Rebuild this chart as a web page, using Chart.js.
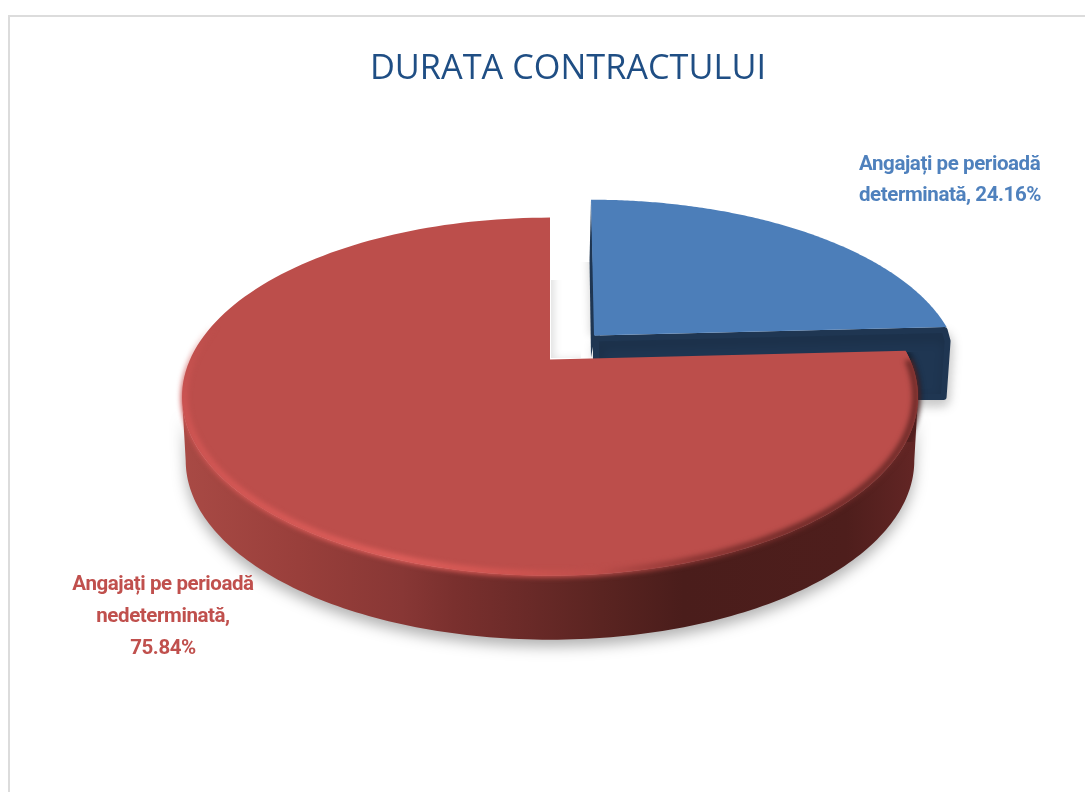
<!DOCTYPE html>
<html>
<head>
<meta charset="utf-8">
<style>
html,body{margin:0;padding:0;background:#fff;overflow:hidden;width:1085px;height:792px}
canvas{display:block}
</style>
<script src="https://cdn.jsdelivr.net/npm/chart.js@4"></script>
</head>
<body>
<canvas id="c" width="1085" height="792"></canvas>
<script>
const categories = ['Angajați pe perioadă determinată', 'Angajați pe perioadă nedeterminată'];
const values = [24.16, 75.84];
const labelLines = [['Angajați pe perioadă', 'determinată, 24.16%'], ['Angajați pe perioadă', 'nedeterminată,', '75.84%']];
const titleText = 'DURATA CONTRACTULUI';
const topColors = ['#4c7eb9', '#bc4e4b'];
const labelColors = ['#4f81bd', '#c0504d'];

const PERSP = 0.207;
const looks = [
  {dx: 44, dy: -24, rx: 0.992, ry: 0.4556, lean: 3.6, depth: 73},
  {dx: 0, dy: 0, rx: 1, ry: 0.476, lean: 0, depth: 64}
];
function proj(arc, look, r, ang, down) {
  const u = r * Math.cos(ang), v = r * Math.sin(ang), w = 1 - PERSP * v;
  const R = arc.outerRadius;
  const sx = down ? 0.99 : 1;
  return {
    x: arc.x + look.dx + sx * R * look.rx * u / w + look.lean * v / w,
    y: arc.y + look.dy + R * look.ry * v / w + (down ? look.depth : 0)
  };
}
function trace(ctx, arc, look, r, a0, a1, down, move) {
  const n = 160;
  for (let i = 0; i <= n; i++) {
    const p = proj(arc, look, r, a0 + (a1 - a0) * i / n, down);
    if (i === 0 && move) ctx.moveTo(p.x, p.y); else ctx.lineTo(p.x, p.y);
  }
}
function wedge(ctx, arc, look, r) {
  const c = proj(arc, look, 0, 0);
  ctx.beginPath();
  ctx.moveTo(c.x, c.y);
  trace(ctx, arc, look, r, arc.startAngle, arc.endAngle, false, false);
  ctx.closePath();
}
function softShadow(ctx, arc, look, box, alpha, blur, ox) {
  ctx.save();
  ctx.beginPath();
  ctx.rect(box[0], box[1], box[2], box[3]);
  ctx.clip();
  ctx.shadowColor = 'rgba(0,0,0,' + alpha + ')';
  ctx.shadowBlur = blur;
  ctx.shadowOffsetX = ox;
  wedge(ctx, arc, look, 1);
  ctx.fillStyle = topColors[look === looks[0] ? 0 : 1];
  ctx.fill();
  ctx.restore();
}
function drawBlue(ctx, arc, look) {
  const c = proj(arc, look, 0, 0);
  const k = proj(arc, look, 1, arc.endAngle);
  const t = proj(arc, look, 1, arc.startAngle);
  softShadow(ctx, arc, look, [560, 262, 40, 100], 0.16, 9, -4);
  ctx.save();
  ctx.shadowColor = 'rgba(0,0,0,0.2)';
  ctx.shadowBlur = 12;
  ctx.shadowOffsetX = 2;
  ctx.shadowOffsetY = 6;
  ctx.fillStyle = '#1f3652';
  ctx.strokeStyle = '#1f3652';
  ctx.lineJoin = 'round';
  ctx.lineWidth = 6;
  ctx.beginPath();
  ctx.moveTo(c.x + 2, c.y + 3);
  ctx.lineTo(k.x - 2, k.y + 3);
  ctx.lineTo(k.x + 1, k.y + 14);
  ctx.lineTo(k.x - 3, k.y + look.depth - 3);
  ctx.lineTo(c.x + 2, k.y + look.depth - 3);
  ctx.closePath();
  ctx.fill();
  ctx.stroke();
  ctx.restore();
  ctx.fillStyle = '#1f3652';
  ctx.beginPath();
  ctx.moveTo(t.x, t.y);
  ctx.lineTo(t.x - 1.5, t.y + 60);
  ctx.lineTo(c.x - 3, c.y + 22);
  ctx.lineTo(c.x + 1, c.y);
  ctx.closePath();
  ctx.fill();
  wedge(ctx, arc, look, 1);
  ctx.fillStyle = topColors[0];
  ctx.fill();
}
function drawRed(ctx, arc, look) {
  const rightA = 12 * Math.PI / 180;
  const leftA = 168 * Math.PI / 180;
  const grad = ctx.createLinearGradient(180, 0, 920, 0);
  [[0, '#a94a45'], [0.16, '#993f3b'], [0.3, '#883735'], [0.37, '#7a302e'], [0.47, '#6a2a28'],
   [0.57, '#5a2421'], [0.68, '#4a1d1b'], [0.9, '#4e1e1c'], [1, '#642625']].forEach(s => grad.addColorStop(s[0], s[1]));
  ctx.save();
  ctx.shadowColor = 'rgba(0,0,0,0.3)';
  ctx.shadowBlur = 14;
  ctx.shadowOffsetY = 7;
  ctx.beginPath();
  trace(ctx, arc, look, 1, rightA, leftA, false, true);
  trace(ctx, arc, look, 1, leftA, rightA, true, false);
  ctx.closePath();
  ctx.fillStyle = grad;
  ctx.fill();
  ctx.restore();

  softShadow(ctx, arc, look, [551, 280, 30, 78], 0.13, 9, 4);
  softShadow(ctx, arc, look, [880, 352, 60, 90], 0.6, 6, 2);
  wedge(ctx, arc, look, 1);
  ctx.fillStyle = topColors[1];
  ctx.fill();

  const rim = ctx.createConicGradient(0, arc.x, arc.y);
  [[0, 'rgba(104,40,38,0.9)'], [34 / 360, 'rgba(110,42,40,1)'], [54 / 360, 'rgba(138,53,51,1)'],
   [78 / 360, 'rgba(190,78,75,1)'], [100 / 360, 'rgba(208,84,80,1)'], [127 / 360, 'rgba(223,95,91,1)'],
   [157 / 360, 'rgba(213,88,85,1)'], [174 / 360, 'rgba(204,84,82,1)'], [186 / 360, 'rgba(204,84,82,0)'],
   [1, 'rgba(104,40,38,0)']].forEach(s => rim.addColorStop(s[0], s[1]));
  ctx.save();
  ctx.filter = 'blur(2.5px)';
  ctx.beginPath();
  trace(ctx, arc, look, 0.994, 0, Math.PI * 1.08, false, true);
  ctx.strokeStyle = rim;
  ctx.lineWidth = 7;
  ctx.stroke();
  ctx.restore();
}
const piePlugin = {
  id: 'tiltedPie',
  beforeDraw(chart) {
    const ctx = chart.ctx;
    ctx.save();
    ctx.fillStyle = '#dcdcdc';
    ctx.fillRect(8, 15, 2, 777);
    ctx.fillRect(8, 15, 1077, 2);
    ctx.restore();
  },
  beforeDatasetsDraw(chart) {
    const ctx = chart.ctx;
    const arcs = chart.getDatasetMeta(0).data;
    drawBlue(ctx, arcs[0], looks[0]);
    drawRed(ctx, arcs[1], looks[1]);
    return false;
  },
  afterDraw(chart) {
    const ctx = chart.ctx;
    ctx.save();
    ctx.font = 'bold 20.5px Roboto';
    ctx.letterSpacing = '-0.42px';
    ctx.textBaseline = 'alphabetic';
    ctx.fillStyle = labelColors[0];
    ctx.textAlign = 'left';
    labelLines[0].forEach((s, i) => ctx.fillText(s, 859, 170 + i * 31));
    ctx.fillStyle = labelColors[1];
    ctx.textAlign = 'center';
    labelLines[1].forEach((s, i) => ctx.fillText(s, 163, 590 + i * 32));
    ctx.restore();
  }
};
new Chart(document.getElementById('c'), {
  type: 'pie',
  data: {labels: categories, datasets: [{data: values, backgroundColor: topColors, borderWidth: 0, radius: 360}]},
  plugins: [piePlugin],
  options: {
    responsive: false,
    animation: false,
    layout: {padding: {left: 334, right: 319, top: 0, bottom: 172}},
    plugins: {
      legend: {display: false},
      tooltip: {enabled: false},
      title: {display: true, text: titleText, color: '#1f4e84', align: 'end',
        font: {family: 'Open Sans', size: 34.3, weight: 'normal'},
        padding: {top: 49, bottom: 9}}
    }
  }
});
</script>
</body>
</html>
